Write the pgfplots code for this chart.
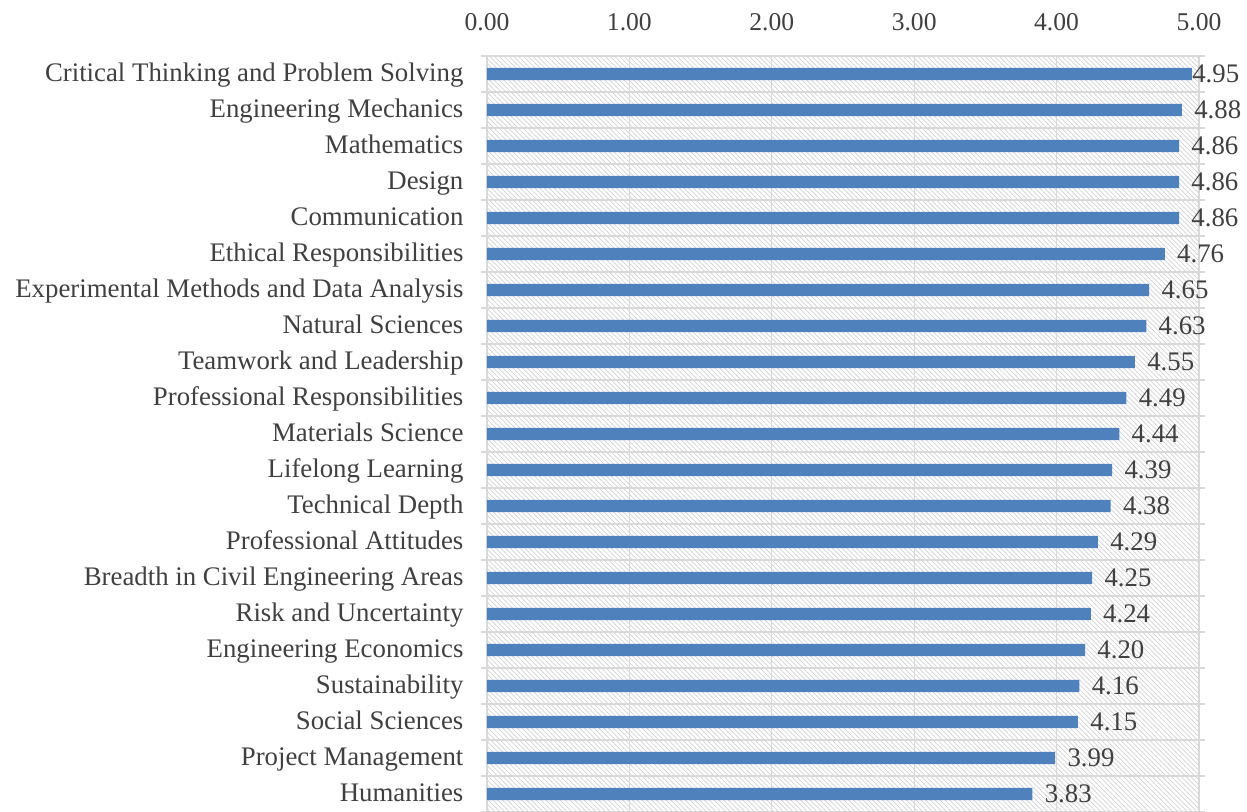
\documentclass[border=0pt]{standalone}
\usepackage{pgfplots}
\pgfplotsset{compat=1.18}
\usepackage{fontspec}
\setmainfont{Liberation Serif}
\usetikzlibrary{patterns.meta,calc}
\definecolor{barblue}{RGB}{79,129,189}
\definecolor{txtgray}{RGB}{64,64,64}
\definecolor{gridgray}{RGB}{217,217,217}
\begin{document}
\begin{tikzpicture}
\begin{axis}[
  scale only axis,
  width=356pt, height=378pt,
  xbar, bar width=6.2pt,
  xmin=0, xmax=5,
  ymin=-0.5, ymax=20.5,
  y dir=reverse,
  xtick={0,1,2,3,4,5},
  xticklabel pos=upper,
  major x tick style={draw=none},
  xmajorgrids, 
  grid style={gridgray, line width=0.6pt},
  ytick={0,...,20},
  major y tick style={draw=none},
  minor ytick={-0.5,0.5,...,20.5},
  yminorgrids,
  minor grid style={gridgray, line width=0.6pt},
  minor tick length=3pt,
  tick align=outside,
  minor y tick style={gridgray, line width=0.6pt},
  axis line style={gridgray, line width=0.6pt},
  axis background/.style={pattern={Lines[angle=-45,distance=1.7pt,line width=0.35pt]}, pattern color=gray!35},
  yticklabels={Critical Thinking and Problem Solving, Engineering Mechanics, Mathematics, Design, Communication, Ethical Responsibilities, Experimental Methods and Data Analysis, Natural Sciences, Teamwork and Leadership, Professional Responsibilities, Materials Science, Lifelong Learning, Technical Depth, Professional Attitudes, Breadth in Civil Engineering Areas, Risk and Uncertainty, Engineering Economics, Sustainability, Social Sciences, Project Management, Humanities},
  yticklabel style={font=\fontsize{13.4}{15}\selectfont, text=txtgray, xshift=-4pt, yshift=-1pt, text height=1.6ex, text depth=0.45ex},
  xticklabel style={font=\fontsize{12.8}{15}\selectfont, text=txtgray, yshift=5pt},
  /pgf/number format/.cd, fixed, fixed zerofill, precision=2, assume math mode=true,
  /pgfplots/.cd,
  visualization depends on={y \as \rowy},
  nodes near coords,
  nodes near coords style={font=\fontsize{13.4}{15}\selectfont, text=txtgray, anchor=west,
    inner xsep=1pt, xshift={(\rowy<0.5 ? -1 : 5)*1pt},
    /pgf/number format/.cd, fixed, fixed zerofill, precision=2, assume math mode=true},
]
\addplot[fill=barblue, draw=none] coordinates {
  (4.95,0) (4.88,1) (4.86,2) (4.86,3) (4.86,4) (4.76,5) (4.65,6)
  (4.63,7) (4.55,8) (4.49,9) (4.44,10) (4.39,11) (4.38,12) (4.29,13)
  (4.25,14) (4.24,15) (4.20,16) (4.16,17) (4.15,18) (3.99,19) (3.83,20)
};
\coordinate (O) at (rel axis cs:0,0);
\coordinate (T) at (rel axis cs:1,1);
\end{axis}
\pgfresetboundingbox
\path[use as bounding box] ($(O)+(-243.5pt,0pt)$) rectangle ($(T)+(24pt,28pt)$);
\end{tikzpicture}
\end{document}
